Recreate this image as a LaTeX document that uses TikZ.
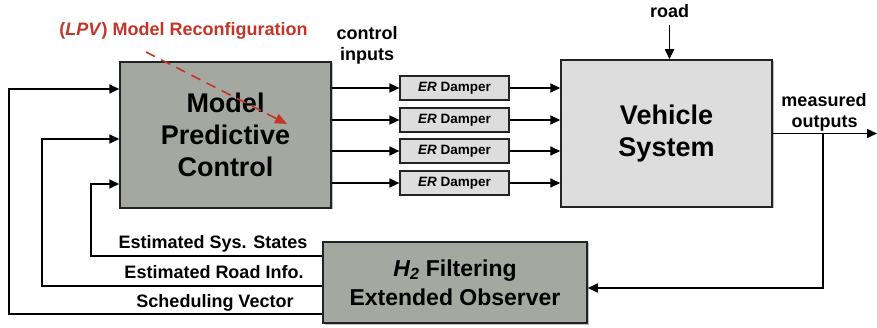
\documentclass[tikz,border=0pt]{standalone}
\usepackage{fontspec}
\setmainfont{Liberation Sans}
\usetikzlibrary{arrows.meta,shadows,calc}
\definecolor{boxdark}{RGB}{164,168,161}
\definecolor{boxlight}{RGB}{221,221,221}
\definecolor{lpvred}{RGB}{196,52,40}
\definecolor{edgecol}{RGB}{35,35,35}
\tikzset{
  bigbox/.style={draw=edgecol, line width=1.5pt, inner sep=0pt, align=center,
    font=\fontsize{27}{32}\selectfont\bfseries,
    drop shadow={shadow xshift=1.5pt, shadow yshift=-1.5pt, opacity=0.25, fill=black}},
  erbox/.style={draw=edgecol, line width=1.2pt, fill=boxlight, minimum width=109pt,
    minimum height=24pt, inner sep=0pt, font=\fontsize{13.5}{15}\selectfont\bfseries,
    drop shadow={shadow xshift=1.2pt, shadow yshift=-1.2pt, opacity=0.25, fill=black}},
  lbl/.style={font=\fontsize{18}{21}\selectfont\bfseries, inner sep=0pt, anchor=base},
  arr/.style={line width=1.7pt, -{Triangle[length=10pt,width=9pt]}},
  ln/.style={line width=1.7pt}
}
\begin{document}
\begin{tikzpicture}[x=1pt,y=-1pt]
\useasboundingbox (0,0) rectangle (877,328);

% main blocks
\node[bigbox, fill=boxdark, minimum width=211pt, minimum height=146pt] (mpc) at (225.5,135) {Model\\Predictive\\Control};
\node[bigbox, fill=boxlight, minimum width=211pt, minimum height=147pt] (veh) at (666.5,133.5) {Vehicle\\System};
\node[bigbox, fill=boxdark, minimum width=264pt, minimum height=81pt,
  font=\fontsize{23}{29}\selectfont\bfseries] (obs) at (455,282.5) {{\itshape H\textsubscript{2}} Filtering\\Extended Observer};

% ER dampers
\foreach \i/\y in {1/88,2/120,3/151,4/183}{
  \node[erbox] (er\i) at (454.5,\y) {\textit{ER} Damper};
  \draw[arr] (mpc.east |- er\i.west) -- (er\i.west);
  \draw[arr] (er\i.east) -- (veh.west |- er\i.east);
}

% labels
\node[lbl, text=lpvred] (lpv) at (183.5,36) {(\textit{LPV}) Model Reconfiguration};
\node[lbl] (ctrl1) at (367,40) {control};
\node[lbl] (ctrl2) at (367,61) {inputs};
\node[lbl] (road) at (669.5,18) {road};
\node[lbl] (meas1) at (824,107) {measured};
\node[lbl] (meas2) at (824.5,128) {outputs};
\node[lbl] (lss) at (213,249) {Estimated Sys. States};
\node[lbl] (lri) at (214,279) {Estimated Road Info.};
\node[lbl] (lsv) at (215,307) {Scheduling Vector};

% road input
\draw[arr] ([yshift=-7pt]road.south) -- (road.south |- veh.north);

% output and feedback
\coordinate (outend) at (877,133.5);
\coordinate (jn) at (823,133.5);
\draw[arr] (veh.east) -- (outend);
\draw[arr] (jn) |- (obs.east |- 0,288);

\draw[arr] (obs.west |- 0,256) -| (91,184) -- (mpc.west |- 0,184);
\draw[arr] (obs.west |- 0,286) -| (42,139) -- (mpc.west |- 0,139);
\draw[arr] (obs.west |- 0,314) -| (9,89) -- (mpc.west |- 0,89);

% LPV reconfiguration arrow
\coordinate (r1) at (146,52);
\coordinate (r2) at (287,124);
\draw[lpvred, line width=1.6pt, dash pattern=on 10pt off 7pt, -{Triangle[length=12pt,width=10pt]}] (r1) -- (r2);
\end{tikzpicture}
\end{document}
